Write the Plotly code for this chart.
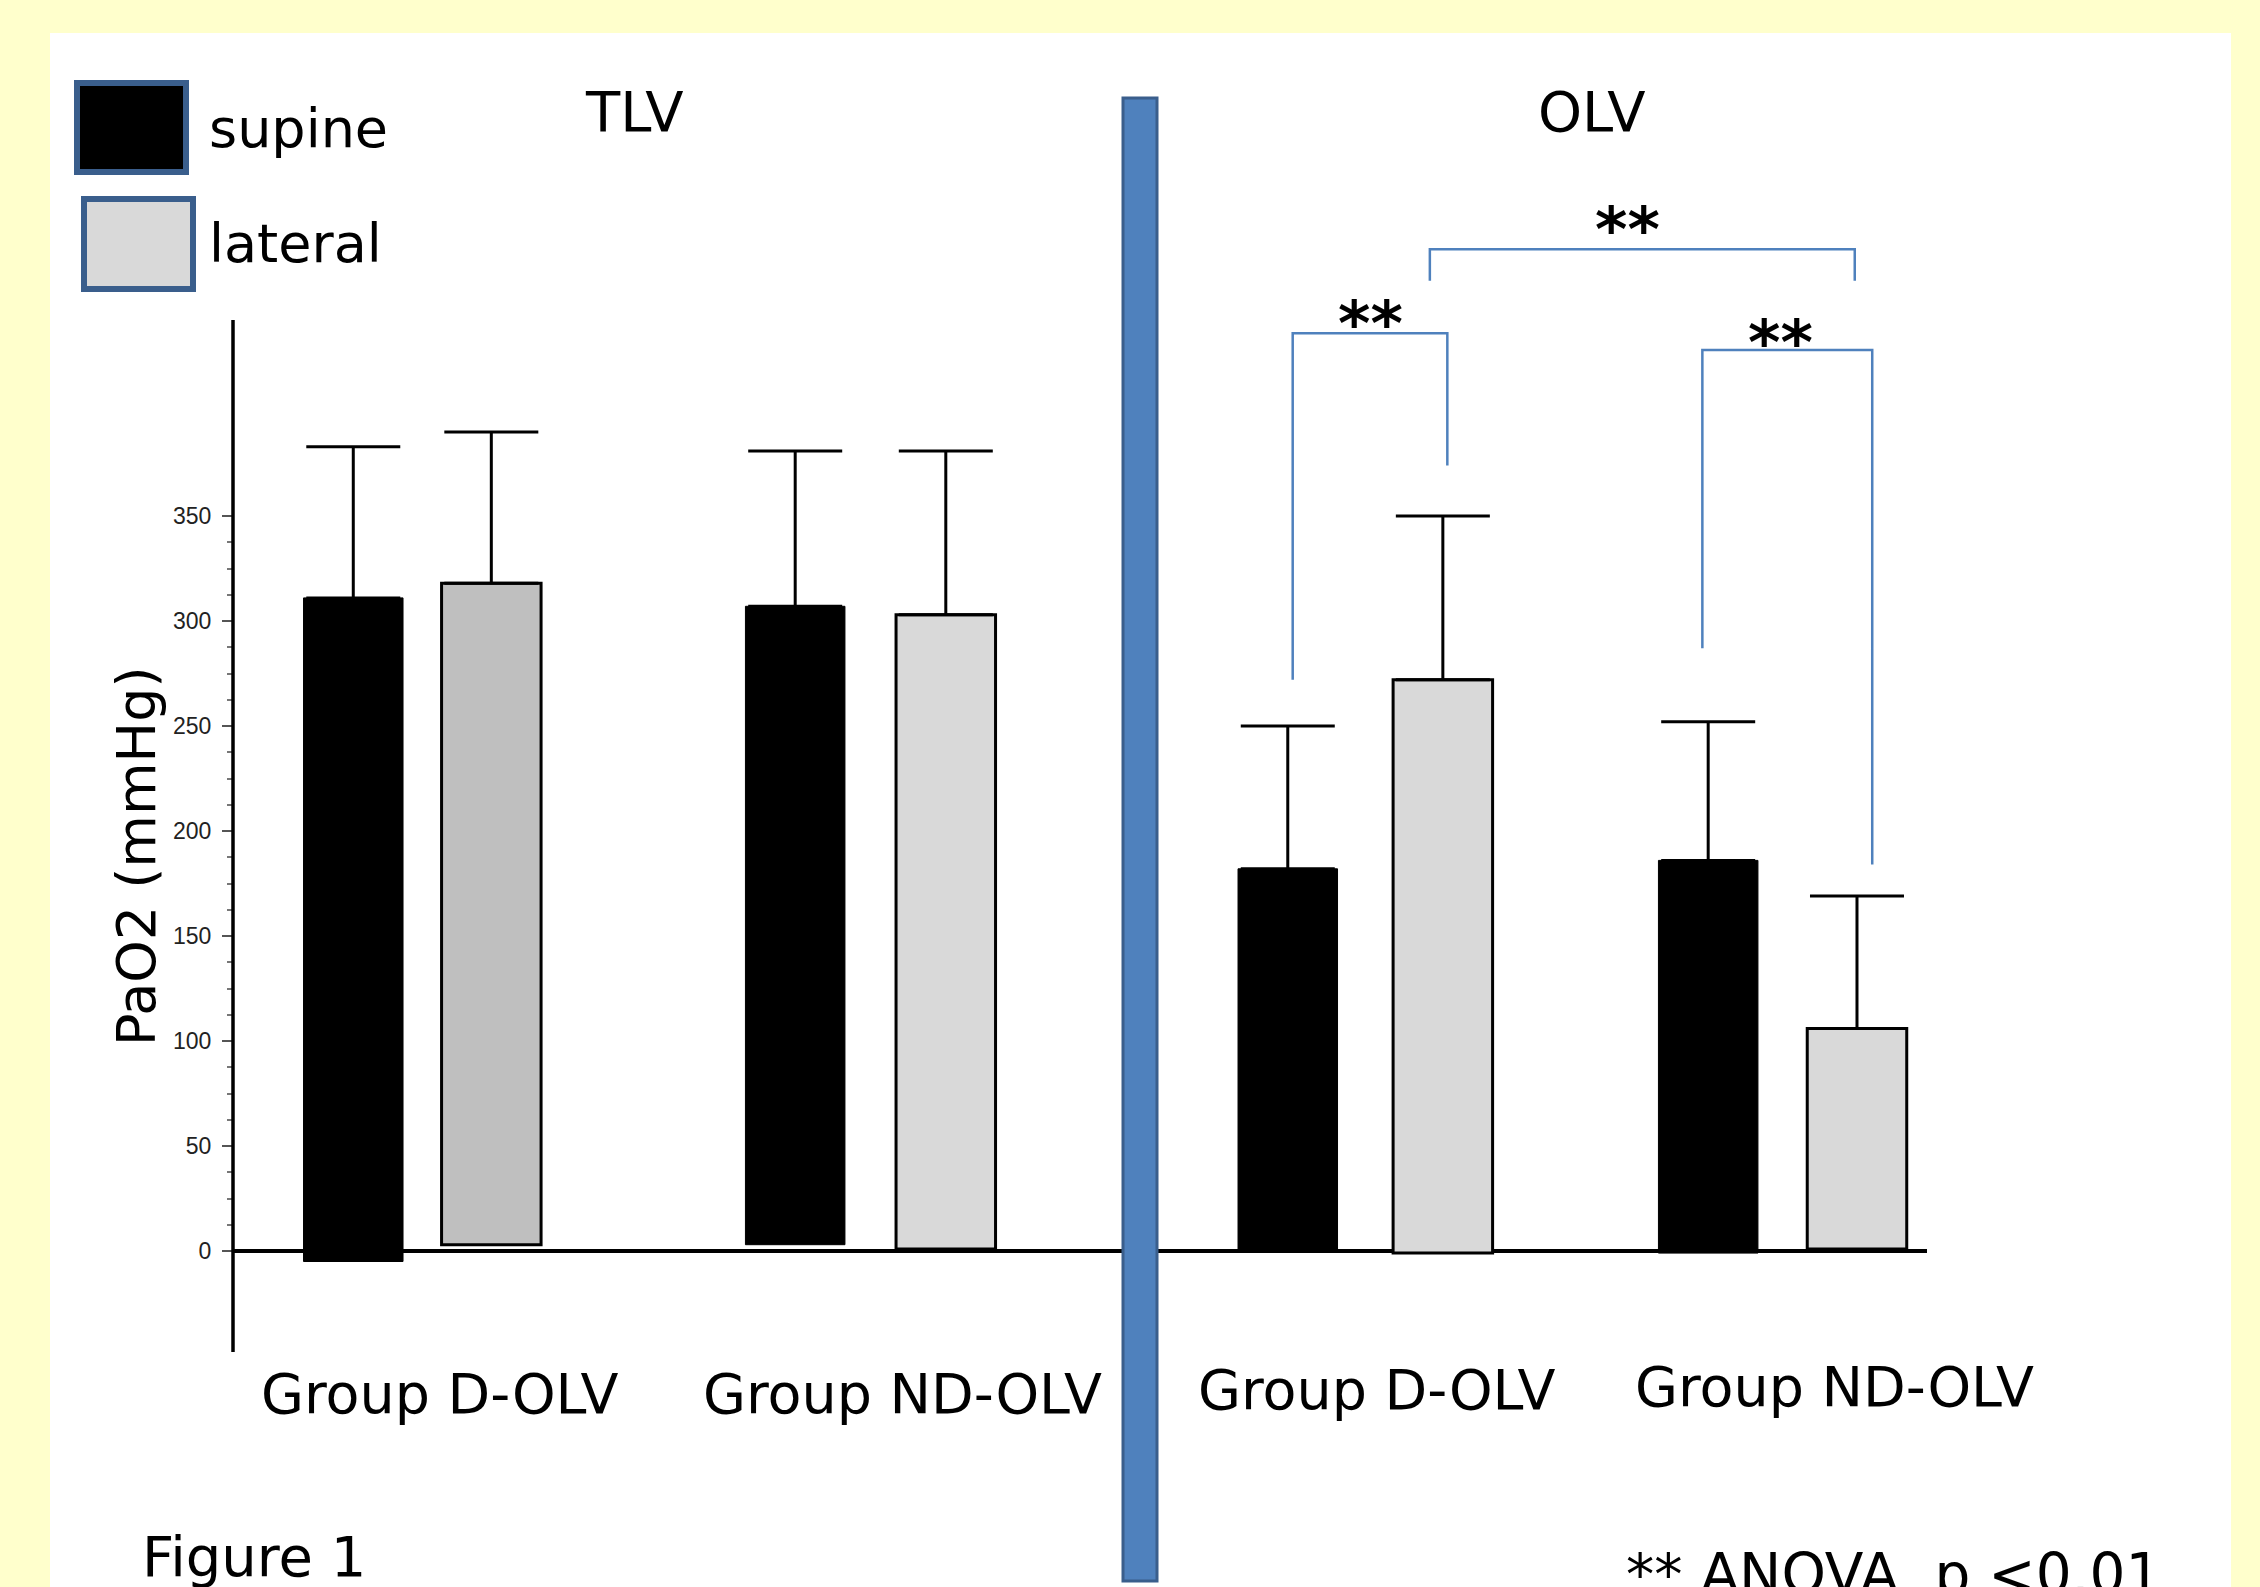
import plotly.graph_objects as go

# ---------------- data ----------------
groups = ["Group D-OLV", "Group ND-OLV", "Group D-OLV", "Group ND-OLV"]
phases = ["TLV", "OLV"]
series_names = ["supine", "lateral"]

supine_mean = [311, 307, 182, 186]
supine_sd = [72, 74, 68, 66]
supine_base = [-5, 3, 0, -1]

lateral_mean = [318, 303, 272, 106]
lateral_sd = [72, 78, 78, 63]
lateral_base = [3, 1, -1, 1]

y_ticks = [0, 50, 100, 150, 200, 250, 300, 350]
y_title = "PaO2 (mmHg)"
sig_label = "**"
footnote = "** ANOVA, p <0.01"
figure_label = "Figure 1"

# significance brackets: (left series, left group, left leg bottom,
#                         right series, right group, right leg bottom, top)
brackets = [
    ("supine", 2, 272, "lateral", 2, 374, 437),
    ("supine", 3, 287, "lateral", 3, 184, 429),
    ("lateral", 2, 462, "lateral", 3, 462, 477),
]

# ---------------- layout constants ----------------
W, H = 2260, 1587
FONT = "DejaVu Sans"
BLACK = "#000000"
LIGHT = "#D9D9D9"
MID = "#BFBFBF"
BLUE = "#4F81BD"
BLUE_DARK = "#3A5E8C"
YELLOW = "#FFFFCC"

lateral_colors = [MID, LIGHT, LIGHT, LIGHT]

group_pos = [0.0, 1.0, 2.104, 3.035]
pair_half = [0.154, 0.168, 0.173, 0.166]
bar_width = 0.222
leg_dx = [(0.011, 0.010), (-0.013, 0.034), (-0.029, -0.005)]
star_dx = [0.0, -0.016, -0.034]
star_dy = [0, -2, 10]

zero_px = 1251.0
px_per_unit = 2.1
y_min, y_max = -48, 520
unit_px = 448.2
g0_px = 422.3
x_left_px, x_right_px = 233, 1927


def pxx(x):
    return x / W


def pxy(y):
    return (H - y) / H


def val_to_px(v):
    return zero_px - v * px_per_unit


x_range = [(x_left_px - g0_px) / unit_px, (x_right_px - g0_px) / unit_px]
y_domain = [pxy(val_to_px(y_min)), pxy(val_to_px(y_max))]

x_sup = [g - h for g, h in zip(group_pos, pair_half)]
x_lat = [g + h for g, h in zip(group_pos, pair_half)]
xpos = {"supine": x_sup, "lateral": x_lat}

fig = go.Figure()

fig.add_trace(go.Bar(
    name=series_names[0],
    x=x_sup,
    y=[m - b for m, b in zip(supine_mean, supine_base)],
    base=supine_base,
    width=bar_width,
    marker=dict(color=BLACK, line=dict(color=BLACK, width=1)),
    error_y=dict(type="data", symmetric=False, array=supine_sd,
                 arrayminus=[0] * len(supine_sd), color=BLACK,
                 thickness=3, width=47),
    showlegend=False,
))
fig.add_trace(go.Bar(
    name=series_names[1],
    x=x_lat,
    y=[m - b for m, b in zip(lateral_mean, lateral_base)],
    base=lateral_base,
    width=bar_width,
    marker=dict(color=lateral_colors, line=dict(color=BLACK, width=3)),
    error_y=dict(type="data", symmetric=False, array=lateral_sd,
                 arrayminus=[0] * len(lateral_sd), color=BLACK,
                 thickness=3, width=47),
    showlegend=False,
))

shapes = []
# white panel
shapes.append(dict(type="rect", xref="paper", yref="paper",
                   x0=pxx(50), x1=pxx(2231), y0=0, y1=pxy(33),
                   fillcolor="white", line=dict(width=0), layer="below"))
# y-axis line
shapes.append(dict(type="line", xref="paper", yref="paper",
                   x0=pxx(x_left_px), x1=pxx(x_left_px),
                   y0=pxy(1352), y1=pxy(320),
                   line=dict(color=BLACK, width=3.5)))
# significance brackets
annotations = []
for i, (ls, lg, lb, rs, rg, rb, top) in enumerate(brackets):
    xl = xpos[ls][lg] + leg_dx[i][0]
    xr = xpos[rs][rg] + leg_dx[i][1]
    shapes.append(dict(type="path", xref="x", yref="y",
                       path=f"M {xl},{lb} L {xl},{top} L {xr},{top} L {xr},{rb}",
                       line=dict(color=BLUE, width=2.5)))
    annotations.append(dict(x=(xl + xr) / 2 + star_dx[i], y=top + 4,
                            xref="x", yref="y", text=f"<b>{sig_label}</b>",
                            showarrow=False, yanchor="bottom",
                            font=dict(family=FONT, size=62, color=BLACK),
                            yshift=-37 + star_dy[i]))
# divider between TLV and OLV
shapes.append(dict(type="rect", xref="paper", yref="paper",
                   x0=pxx(1123), x1=pxx(1157), y0=pxy(1581), y1=pxy(98),
                   fillcolor=BLUE, line=dict(color=BLUE_DARK, width=3),
                   layer="above"))
# legend boxes
shapes.append(dict(type="rect", xref="paper", yref="paper",
                   x0=pxx(77), x1=pxx(186), y0=pxy(172), y1=pxy(83),
                   fillcolor=BLACK, line=dict(color=BLUE_DARK, width=6)))
shapes.append(dict(type="rect", xref="paper", yref="paper",
                   x0=pxx(84), x1=pxx(193), y0=pxy(289), y1=pxy(199),
                   fillcolor=LIGHT, line=dict(color=BLUE_DARK, width=6)))


def font(size):
    return dict(family=FONT, size=size, color=BLACK)


# legend labels
annotations.append(dict(x=pxx(207), y=pxy(128), xref="paper", yref="paper",
                        text=series_names[0], showarrow=False,
                        xanchor="left", yanchor="middle", font=font(54)))
annotations.append(dict(x=pxx(207), y=pxy(244), xref="paper", yref="paper",
                        text=series_names[1], showarrow=False,
                        xanchor="left", yanchor="middle", font=font(54)))
# phase titles
for txt, cx in zip(phases, [634, 1591]):
    annotations.append(dict(x=pxx(cx), y=pxy(111), xref="paper", yref="paper",
                            text=txt, showarrow=False, xanchor="center",
                            yanchor="middle", font=font(56)))
# group labels
label_px = [(439, 1393), (902, 1393), (1376, 1389), (1834, 1386)]
for txt, (cx, cy) in zip(groups, label_px):
    annotations.append(dict(x=pxx(cx), y=pxy(cy), xref="paper", yref="paper",
                            text=txt, showarrow=False, xanchor="center",
                            yanchor="middle", font=font(55.5)))
# y-axis title
annotations.append(dict(x=pxx(136), y=pxy(857), xref="paper", yref="paper",
                        text=y_title, showarrow=False, textangle=-90,
                        xanchor="center", yanchor="middle", font=font(54)))
# figure label and footnote
annotations.append(dict(x=pxx(140), y=pxy(1556), xref="paper", yref="paper",
                        text=figure_label, showarrow=False, xanchor="left",
                        yanchor="middle", font=font(56)))
annotations.append(dict(x=pxx(1624), y=pxy(1574), xref="paper", yref="paper",
                        text=footnote, showarrow=False, xanchor="left",
                        yanchor="middle", font=font(56.5)))

minor_vals = [12.5 * k for k in range(0, 29) if (12.5 * k) % 50 != 0]

fig.update_layout(
    width=W, height=H,
    margin=dict(l=0, r=0, t=0, b=0),
    paper_bgcolor=YELLOW,
    plot_bgcolor="rgba(0,0,0,0)",
    barmode="overlay",
    shapes=shapes,
    annotations=annotations,
    xaxis=dict(domain=[pxx(x_left_px), pxx(x_right_px)], range=x_range,
               visible=False, fixedrange=True),
    yaxis=dict(domain=y_domain, range=[y_min, y_max],
               tickmode="array", tickvals=y_ticks,
               ticks="outside", ticklen=10, tickwidth=2, tickcolor="#555",
               tickfont=dict(family="Liberation Sans", size=23, color="#222"),
               ticklabelstandoff=6,
               showgrid=False, showline=False,
               zeroline=True, zerolinecolor=BLACK, zerolinewidth=4,
               minor=dict(tickmode="array", tickvals=minor_vals,
                          ticks="outside", ticklen=5, tickwidth=2,
                          tickcolor="#777", showgrid=False)),
    showlegend=False,
)

fig.write_html(
    "out.html",
    config={"displayModeBar": False},
    post_script="document.body.style.margin='0';"
                "document.body.style.overflow='hidden';"
                "document.body.style.background='#FFFFCC';",
)
